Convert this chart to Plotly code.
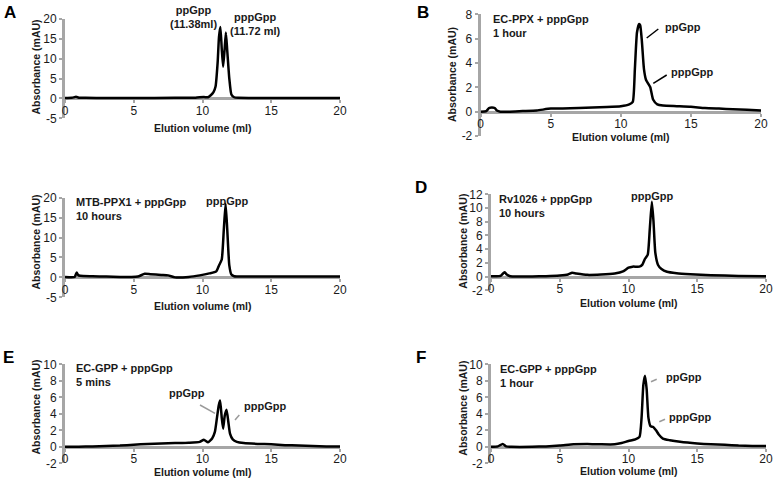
import plotly.graph_objects as go

W, H = 777, 481

# ---------------- data (elution volume in ml, absorbance in mAU) ----------------
a_vol = [0, 0.5, 0.8, 1.0, 1.5, 3, 5, 8, 9.5, 10.1, 10.4, 10.6, 10.8, 10.95, 11.1, 11.2, 11.3, 11.4, 11.5, 11.6, 11.7, 11.8, 11.95, 12.1, 12.3, 12.6, 14, 17, 20]
a_abs = [0.1, 0.15, 0.4, 0.2, 0.15, 0.1, 0.1, 0.15, 0.2, 0.35, 0.3, 0.8, 1.6, 3.0, 9.0, 15.5, 18.0, 12.5, 8.0, 12.0, 16.6, 12.0, 5.0, 1.0, 0.3, 0.15, 0.1, 0.1, 0.1]

b_vol = [0, 0.4, 0.6, 0.8, 1.0, 1.15, 1.4, 2, 3, 4, 5, 7, 9, 10, 10.6, 10.85, 11.0, 11.15, 11.3, 11.38, 11.5, 11.65, 11.8, 11.95, 12.1, 12.3, 12.6, 13, 14, 15, 16, 17, 18, 19, 20]
b_abs = [0, 0.05, 0.3, 0.35, 0.3, 0.1, 0.0, 0.0, 0.05, 0.1, 0.25, 0.3, 0.38, 0.45, 0.6, 0.8, 3.5, 6.5, 7.2, 7.1, 5.8, 3.5, 2.6, 2.3, 2.0, 1.0, 0.6, 0.5, 0.45, 0.4, 0.3, 0.25, 0.2, 0.15, 0.1]

c_vol = [0, 0.7, 0.85, 0.95, 1.1, 2, 3, 4, 4.8, 5.3, 5.8, 6.2, 7, 7.5, 8.0, 9, 9.8, 10.5, 11.0, 11.2, 11.4, 11.55, 11.68, 11.8, 11.95, 12.1, 12.3, 13, 15, 17, 20]
c_abs = [0.1, 0.1, 1.2, 0.6, 0.4, 0.3, 0.2, 0.1, 0.1, 0.2, 0.9, 0.8, 0.6, 0.5, 0.0, 0.1, 0.5, 1.0, 1.5, 3.0, 4.5, 12.0, 18.5, 12.0, 3.0, 0.7, 0.3, 0.2, 0.2, 0.2, 0.2]

d_vol = [0, 0.7, 0.9, 1.0, 1.15, 1.4, 2, 3, 4, 5, 5.6, 5.9, 6.2, 7, 8, 9, 9.6, 10.0, 10.3, 10.8, 11.0, 11.2, 11.4, 11.55, 11.7, 11.82, 11.95, 12.15, 12.4, 12.8, 13.5, 14.5, 16, 18, 20]
d_abs = [0.05, 0.1, 0.5, 0.65, 0.3, 0.05, 0.02, 0.02, 0.05, 0.15, 0.3, 0.55, 0.45, 0.25, 0.3, 0.45, 0.75, 1.3, 1.45, 1.45, 1.7, 2.6, 3.2, 7.0, 10.9, 8.0, 3.5, 1.7, 1.1, 0.7, 0.5, 0.35, 0.2, 0.1, 0.05]

e_vol = [0, 1, 2, 3, 4, 5, 6, 7, 8, 9, 9.8, 10.1, 10.4, 10.7, 10.9, 11.05, 11.18, 11.28, 11.4, 11.5, 11.62, 11.75, 11.88, 12.0, 12.2, 12.5, 13, 14, 15, 16, 17, 18, 19, 20]
e_abs = [0.0, 0.0, 0.05, 0.1, 0.15, 0.25, 0.35, 0.4, 0.45, 0.5, 0.6, 0.85, 0.55, 1.0, 1.8, 3.5, 5.0, 5.6, 3.5, 2.2, 3.8, 4.5, 3.0, 1.6, 0.9, 0.6, 0.45, 0.35, 0.3, 0.2, 0.15, 0.1, 0.05, 0.05]

f_vol = [0, 0.5, 0.85, 1.1, 1.5, 3, 4, 5, 6, 7, 8, 9, 9.5, 10, 10.5, 10.8, 10.95, 11.08, 11.2, 11.32, 11.45, 11.6, 11.8, 12.0, 12.2, 12.5, 13, 13.75, 15, 16, 17, 18, 19, 20]
f_abs = [0.0, 0.05, 0.35, 0.05, 0.0, 0.0, 0.05, 0.15, 0.3, 0.35, 0.3, 0.3, 0.45, 0.7, 0.9, 1.2, 3.5, 7.5, 8.6, 7.0, 3.5, 2.5, 2.4, 2.0, 1.5, 1.0, 0.8, 0.6, 0.4, 0.3, 0.25, 0.15, 0.1, 0.1]

x_ticks = [0, 5, 10, 15, 20]
x_tick_labels = ["0", "5", "10", "15", "20"]
y_ticks_25 = [-5, 0, 5, 10, 15, 20]
y_tick_labels_25 = ["-5", "0", "5", "10", "15", "20"]
y_ticks_8 = [-2, 0, 2, 4, 6, 8]
y_tick_labels_8 = ["-2", "0", "2", "4", "6", "8"]
y_ticks_12 = [-2, 0, 2, 4, 6, 8, 10, 12]
y_tick_labels_12 = ["-2", "0", "2", "4", "6", "8", "10", "12"]
y_ticks_10 = [-2, 0, 2, 4, 6, 8, 10]
y_tick_labels_10 = ["-2", "0", "2", "4", "6", "8", "10"]

x_title = "Elution volume (ml)"
y_title = "Absorbance (mAU)"

# ---------------- layout geometry (pixels) ----------------
panels = [
    dict(vol=a_vol, ab=a_abs, x0=65, x1=340, yt=19, yb=118.3, yr=[-5, 20], tv=y_ticks_25, tt=y_tick_labels_25,
         xt=(202, 127.5), ytl=(35, 67.5)),
    dict(vol=b_vol, ab=b_abs, x0=480.7, x1=761, yt=14.3, yb=136, yr=[-2, 8], tv=y_ticks_8, tt=y_tick_labels_8,
         xt=(620, 136.5), ytl=(452, 75)),
    dict(vol=c_vol, ab=c_abs, x0=65, x1=340, yt=197.7, yb=297.3, yr=[-5, 20], tv=y_ticks_25, tt=y_tick_labels_25,
         xt=(202, 305.5), ytl=(35, 242.5)),
    dict(vol=d_vol, ab=d_abs, x0=491, x1=766, yt=194.3, yb=290.3, yr=[-2, 12], tv=y_ticks_12, tt=y_tick_labels_12,
         xt=(628.3, 303), ytl=(462.7, 241)),
    dict(vol=e_vol, ab=e_abs, x0=65, x1=340, yt=364.3, yb=463.3, yr=[-2, 10], tv=y_ticks_10, tt=y_tick_labels_10,
         xt=(202, 472), ytl=(35, 407.5)),
    dict(vol=f_vol, ab=f_abs, x0=491, x1=766, yt=364.3, yb=463.3, yr=[-2, 10], tv=y_ticks_10, tt=y_tick_labels_10,
         xt=(628.3, 470.5), ytl=(462.7, 408)),
]


def fx(px):
    return px / W


def fy(py):
    return 1 - py / H


FONT = "Liberation Sans, Arial, sans-serif"
AXIS_GRAY = "#a6a6a6"
TEXT = "#1a1a1a"

fig = go.Figure()
annotations = []
layout_axes = {}

for i, p in enumerate(panels):
    n = "" if i == 0 else str(i + 1)
    fig.add_trace(go.Scatter(x=p["vol"], y=p["ab"], mode="lines",
                             line=dict(color="black", width=2.5, shape="spline", smoothing=0.5),
                             xaxis="x" + n, yaxis="y" + n, showlegend=False, hoverinfo="skip"))
    lo, hi = p["yr"]
    pz = p["yt"] + (hi - 0) / (hi - lo) * (p["yb"] - p["yt"])
    layout_axes["xaxis" + n] = dict(
        domain=[fx(p["x0"]), fx(p["x1"])], range=[0, 20], anchor="free", position=fy(pz),
        showline=True, linecolor=AXIS_GRAY, linewidth=3, showgrid=False, zeroline=False,
        ticks="outside", ticklen=3, tickwidth=2, tickcolor=AXIS_GRAY, automargin=False,
        ticklabelstandoff=-3,
        tickvals=x_ticks, ticktext=x_tick_labels, layer="below traces",
        tickfont=dict(family=FONT, size=12, color=TEXT), fixedrange=True)
    layout_axes["yaxis" + n] = dict(
        domain=[fy(p["yb"]), fy(p["yt"])], range=[lo, hi], anchor="x" + n,
        showline=True, linecolor=AXIS_GRAY, linewidth=3, showgrid=False, zeroline=False,
        ticks="outside", ticklen=3, tickwidth=2, tickcolor=AXIS_GRAY, automargin=False,
        tickvals=p["tv"], ticktext=p["tt"], layer="below traces",
        tickfont=dict(family=FONT, size=12, color=TEXT), fixedrange=True)
    annotations.append(dict(text="<b>%s</b>" % x_title, x=fx(p["xt"][0]), y=fy(p["xt"][1]),
                            xref="paper", yref="paper", showarrow=False, xanchor="center", yanchor="middle",
                            font=dict(family=FONT, size=10.5, color=TEXT)))
    annotations.append(dict(text="<b>%s</b>" % y_title, x=fx(p["ytl"][0]), y=fy(p["ytl"][1]),
                            xref="paper", yref="paper", showarrow=False, xanchor="center", yanchor="middle",
                            textangle=-90, font=dict(family=FONT, size=10.5, color=TEXT)))

# panel letters
letters = [("A", 10, 13), ("B", 423, 12.5), ("D", 421, 187.5), ("E", 8, 357.5), ("F", 421, 357.5)]
for t, x, y in letters:
    annotations.append(dict(text="<b>%s</b>" % t, x=fx(x), y=fy(y), xref="paper", yref="paper",
                            showarrow=False, xanchor="center", yanchor="middle",
                            font=dict(family=FONT, size=17, color="black")))

# text labels: (text, x px, y px, xanchor)
labels = [
    ("ppGpp<br>(11.38ml)", 193, 17, "center"),
    ("pppGpp<br>(11.72 ml)", 255, 24, "center"),
    ("EC-PPX + pppGpp<br>1 hour", 490.7, 26, "left"),
    ("ppGpp", 663, 27, "left"),
    ("pppGpp", 669, 71.7, "left"),
    ("MTB-PPX1 + pppGpp<br>10 hours", 74, 209, "left"),
    ("pppGpp", 226.7, 200.7, "center"),
    ("Rv1026 + pppGpp<br>10 hours", 497.3, 206.3, "left"),
    ("pppGpp", 651.7, 196, "center"),
    ("EC-GPP + pppGpp<br>5 mins", 74, 375.3, "left"),
    ("ppGpp", 186.7, 392.7, "center"),
    ("pppGpp", 242.3, 406, "left"),
    ("EC-GPP + pppGpp<br>1 hour", 498.3, 376, "left"),
    ("ppGpp", 664, 376.7, "left"),
    ("pppGpp", 666.7, 416.7, "left"),
]
for t, x, y, xa in labels:
    annotations.append(dict(text="<b>%s</b>" % t, x=fx(x), y=fy(y), xref="paper", yref="paper",
                            showarrow=False, xanchor=xa, yanchor="middle", align=xa,
                            font=dict(family=FONT, size=11, color=TEXT)))

# leader lines (pixels)
leaders = [
    ((646.7, 38), (658.3, 29), "black"),
    ((653.3, 83.3), (666.7, 75), "black"),
    ((200, 405), (215, 413.3), "#9a9a9a"),
    ((235, 420), (239.3, 415), "#9a9a9a"),
    ((651, 381.7), (656.7, 379.3), "#9a9a9a"),
    ((659.3, 421.7), (665, 419.3), "#9a9a9a"),
]
shapes = []
for (xa, ya), (xb, yb), c in leaders:
    shapes.append(dict(type="line", xref="paper", yref="paper", x0=fx(xa), y0=fy(ya), x1=fx(xb), y1=fy(yb),
                       line=dict(color=c, width=1.5)))

fig.update_layout(width=W, height=H, margin=dict(l=0, r=0, t=0, b=0, pad=0, autoexpand=False),
                  paper_bgcolor="white", plot_bgcolor="white",
                  annotations=annotations, shapes=shapes, showlegend=False, **layout_axes)

fig.write_html("out.html", config={"displayModeBar": False, "staticPlot": True},
               post_script="document.body.style.margin='0';document.body.style.padding='0';"
                           "document.body.style.overflow='hidden';")
